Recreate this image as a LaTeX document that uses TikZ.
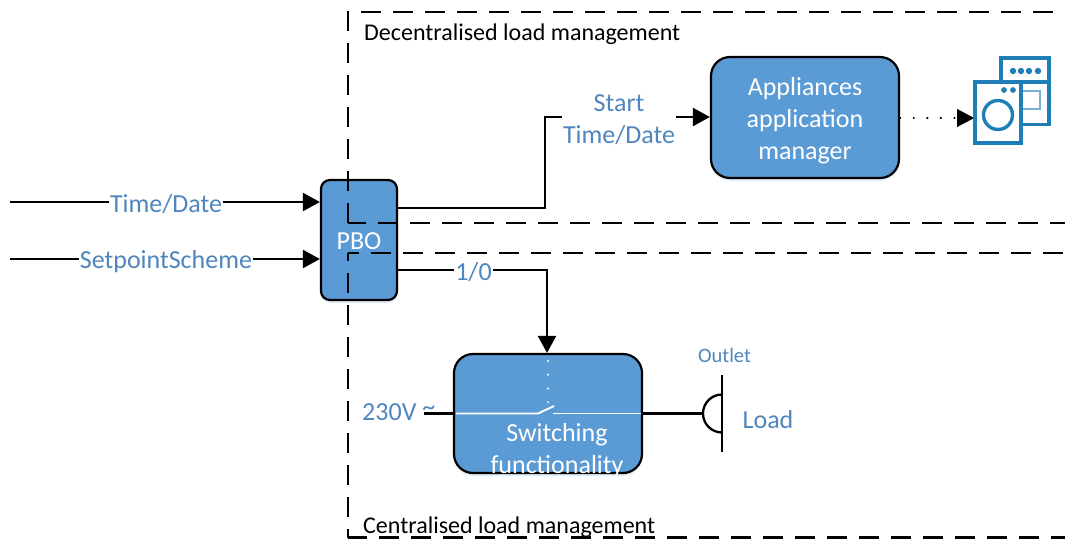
\documentclass[tikz,border=0pt]{standalone}
\usepackage{fontspec}
\setmainfont{Carlito}
\usetikzlibrary{arrows.meta,calc,shadows}
\definecolor{boxblue}{HTML}{5B9BD5}
\definecolor{txtblue}{HTML}{4F86BD}
\definecolor{iconblue}{HTML}{1F7DB8}
\tikzset{
 box/.style={draw=black,line width=2.2pt,fill=boxblue,rounded corners=#1,inner sep=0pt,general shadow={fill=boxblue,opacity=.18,shadow yshift=-3pt}},
 box/.default=19pt,
 conn/.style={draw=black,line width=2.3pt},
 arr/.style={conn,-{Triangle[length=17pt,width=18pt]}},
 dashline/.style={draw=black,line width=2.4pt,dash pattern=on 20pt off 12pt},
 bluetxt/.style={text=txtblue,font=\fontsize{26}{32}\selectfont,inner sep=0pt,align=center},
 blacktxt/.style={text=black,font=\fontsize{24}{28}\selectfont,inner sep=0pt,anchor=base west},
 whitetxt/.style={text=white,font=\fontsize{26}{32}\selectfont,inner sep=0pt,align=center},
 iconline/.style={draw=iconblue,line width=3.4pt},
}
\begin{document}
\begin{tikzpicture}[x=1pt,y=-1pt]
\useasboundingbox (0,0) rectangle (1065,539);
% boxes
\node[box=9pt,minimum width=76pt,minimum height=120pt] (pbo) at (359,240) {};
\node[box,minimum width=188pt,minimum height=121pt] (app) at (805,117.5) {};
\node[box,minimum width=188pt,minimum height=119pt] (sw) at (548,413.5) {};
% dashed regions
\coordinate (d1) at (1065,12); \coordinate (d2) at (348,12);
\coordinate (d3) at (348,223); \coordinate (d4) at (1065,223);
\coordinate (d5) at (1065,253); \coordinate (d6) at (348,253);
\coordinate (d7) at (348,537.5); \coordinate (d8) at (1065,537.5);
\draw[dashline] (d3) -- (d2) -- (d1);
\draw[dashline,dash phase=2pt] (d3) -- (d4);
\draw[dashline,dash phase=9pt] (d6) -- (d5);
\draw[dashline,dash phase=12pt] (d6) -- (d7);
\draw[dashline,dash phase=1pt] (d7) -- (d8);
% labels of regions
\node[blacktxt] (declab) at (364,40) {Decentralised load management};
\node[blacktxt] (cenlab) at (363,533) {Centralised load management};
\node[whitetxt] (pbolab) at (359,241) {PBO};
% inputs
\coordinate (in1) at (10,202); \coordinate (in2) at (10,259);
\draw[arr] (in1) -- (in1 -| pbo.west);
\draw[arr] (in2) -- (in2 -| pbo.west);
\node[bluetxt,fill=white,inner xsep=1pt] (td) at (166,204) {Time/Date};
\node[bluetxt,fill=white,inner xsep=1pt] (sp) at (166,261.5) {SetpointScheme};
% PBO to appliance
\coordinate (o1) at (397,208); \coordinate (bend) at (545,117);
\draw[arr] (o1) -- (o1 -| bend) -- (bend) -- (bend -| app.west);
\node[bluetxt,fill=white,inner xsep=1pt] (st) at (619,120) {Start\\Time/Date};
\node[whitetxt] (applab) at (805,120.5) {Appliances\\application\\manager};
% dotted appliance to icon
\coordinate (ic) at (974,118);
\draw[draw=black,line width=2.4pt,line cap=round,dash pattern=on 0pt off 13.6pt] (app.east |- ic) -- ($(ic)+(-16,0)$);
\draw[-{Triangle[length=17pt,width=18pt]},draw=black,line width=0.1pt] ($(ic)+(-12,0)$) -- (ic);
% PBO to switch
\coordinate (o2) at (397,270); \coordinate (b2) at (547,270);
\draw[arr] (o2) -- (b2) -- (b2 |- sw.north);
\node[bluetxt,fill=white,inner xsep=1pt,inner ysep=1pt] (ten) at (473.5,272) {1/0};
% switch
\coordinate (swl) at (424,413.5); \coordinate (swr) at (702,413.5);
\draw[conn] (swl) -- (swl -| sw.west);
\draw[conn] (sw.east |- swr) -- (swr);
\draw[draw=white,line width=1.9pt] (456,413.5) -- (538,413.5) -- (554,406);
\draw[draw=white,line width=1.9pt] (553,413.5) -- (641,413.5);
\draw[draw=white,line width=2.2pt,line cap=round,dash pattern=on 0pt off 13.7pt] (548,361) -- (548,403);
\node[bluetxt,anchor=west] (v) at (362,412) {230V \raisebox{5pt}{\textasciitilde}};
\node[whitetxt] (swlab) at (557,451) {Switching\\functionality};
% outlet
\coordinate (p1) at (722,375); \coordinate (p2) at (722,452);
\draw[draw=black,line width=2.4pt] (p1) -- (p2);
\draw[draw=black,line width=2.3pt] (722,394.5) arc[start angle=270,end angle=90,radius=19];
\node[bluetxt,font=\fontsize{20.5}{24}\selectfont] (outl) at (724.5,355) {Outlet};
\node[bluetxt] (load) at (768,420) {Load};
% icon
\draw[iconline,draw=iconblue!60,line width=2.4pt] (1022,91) -- (1040,91) -- (1040,109) -- (1022,109);
\draw[iconline] (1001,82) -- (1001,58) -- (1049,58) -- (1049,124.5) -- (1022,124.5);
\draw[iconline] (1001,82) -- (1049,82);
\foreach \x in {1013,1021,1029,1038}{\fill[iconblue] (\x,71) circle (3.2pt);}
\draw[iconline] (975,82) rectangle (1021,143);
\draw[iconline] (998,115) circle (14.5pt);
\fill[iconblue] (1004,90) circle (2.9pt);
\fill[iconblue] (1013,90) circle (2.9pt);
\end{tikzpicture}
\end{document}
